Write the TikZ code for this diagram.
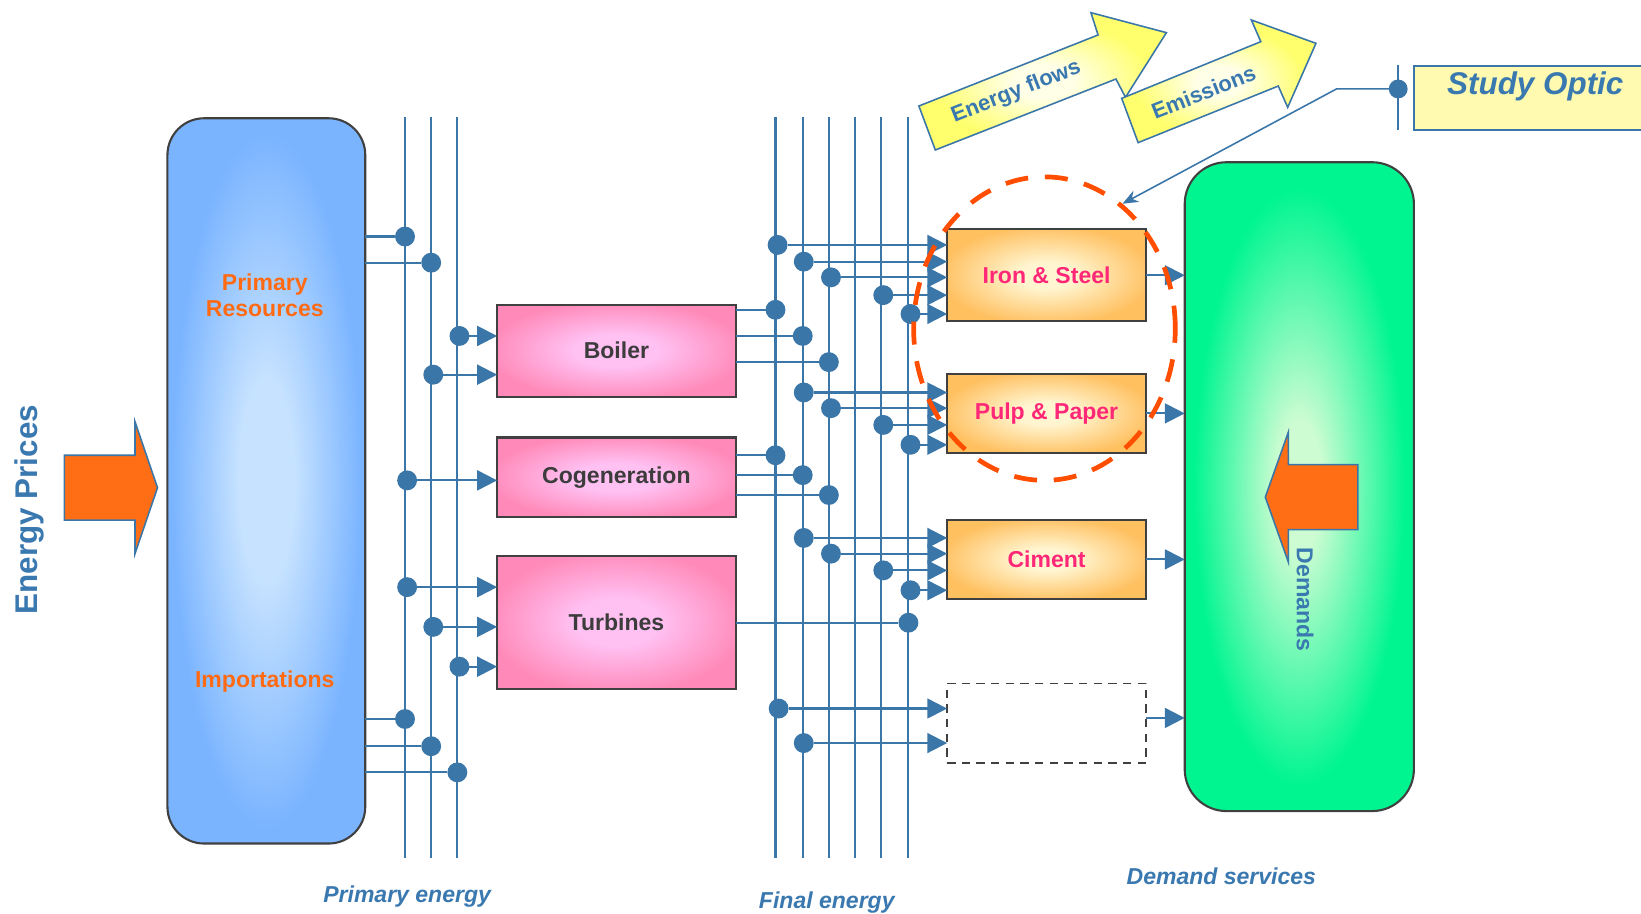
\documentclass[tikz,border=0pt]{standalone}
\usepackage{fontspec}
\setmainfont{Liberation Sans}
\usetikzlibrary{arrows.meta,shapes.geometric}
\definecolor{lblue}{RGB}{58,118,168}
\definecolor{tblue}{RGB}{58,120,176}
\definecolor{boxedge}{RGB}{64,64,64}
\definecolor{bouter}{RGB}{122,180,255}
\definecolor{binner}{RGB}{198,226,255}
\definecolor{gouter}{RGB}{0,245,145}
\definecolor{ginner}{RGB}{205,252,210}
\definecolor{pouter}{RGB}{255,138,185}
\definecolor{pinner}{RGB}{255,192,242}
\definecolor{oouter}{RGB}{255,192,96}
\definecolor{oinner}{RGB}{255,245,208}
\definecolor{yarrow}{RGB}{255,255,110}
\definecolor{ylight}{RGB}{255,255,232}
\definecolor{ybox}{RGB}{255,250,175}
\definecolor{orangearr}{RGB}{255,110,20}
\definecolor{orangetxt}{RGB}{255,106,19}
\definecolor{pinktxt}{RGB}{255,40,120}
\definecolor{darktxt}{RGB}{60,60,60}
\definecolor{dashcirc}{RGB}{255,78,0}
\pgfdeclareradialshading{blueshade}{\pgfpoint{0bp}{0bp}}{color(0bp)=(binner); color(7bp)=(binner); color(24bp)=(bouter); color(50bp)=(bouter)}
\pgfdeclareradialshading{greenshade}{\pgfpoint{0bp}{0bp}}{color(0bp)=(ginner); color(5bp)=(ginner); color(23bp)=(gouter); color(50bp)=(gouter)}
\pgfdeclareradialshading{pinkshade}{\pgfpoint{0bp}{0bp}}{color(0bp)=(pinner); color(9bp)=(pinner); color(27bp)=(pouter); color(50bp)=(pouter)}
\pgfdeclareradialshading{orangeshade}{\pgfpoint{0bp}{0bp}}{color(0bp)=(oinner); color(7bp)=(oinner); color(27bp)=(oouter); color(50bp)=(oouter)}
\pgfdeclareradialshading{yellowshade}{\pgfpoint{0bp}{0bp}}{color(0bp)=(ylight); color(6bp)=(ylight); color(22bp)=(yarrow); color(50bp)=(yarrow)}
\tikzset{
  busline/.style={draw=lblue, line width=2pt},
  conn/.style={draw=lblue, line width=2pt},
  connarr/.style={conn, -{Triangle[length=19pt,width=19pt]}},
  jdot/.style={circle, fill=lblue, minimum size=19pt, inner sep=0pt, outer sep=0pt},
  procbox/.style={rectangle, draw=boxedge, line width=2pt, shade, shading=pinkshade, inner sep=0pt, outer sep=0pt, minimum width=228pt, font=\fontsize{22}{26}\selectfont\bfseries, text=darktxt},
  sectbox/.style={rectangle, draw=boxedge, line width=2pt, shade, shading=orangeshade, inner sep=0pt, outer sep=0pt, minimum width=190pt, font=\fontsize{22}{26}\selectfont\bfseries, text=pinktxt},
  bigbox/.style={rectangle, draw=boxedge, line width=2pt, inner sep=0pt, outer sep=0pt},
  restext/.style={font=\fontsize{22}{25}\selectfont\bfseries, text=orangetxt, align=center},
  axislabel/.style={font=\fontsize{22}{26}\selectfont\bfseries\itshape, text=tblue},
  yarrowshape/.style={shading=yellowshade, draw=lblue, line width=1.5pt},
  yarrowtext/.style={font=\fontsize{21}{24}\selectfont\bfseries, text=tblue, rotate=21.5},
  bigarrow/.style={fill=orangearr, draw=lblue, line width=1.5pt}
}
\begin{document}
\begin{tikzpicture}[x=1pt,y=-1pt]
\useasboundingbox (0,0) rectangle (1568,873);
\fill[white] (0,0) rectangle (1568,873);

% bus lines
\foreach \n/\x in {P1/387,P2/412,P3/437,F1/741,F2/767,F3/792,F4/817,F5/842,F6/868}{
  \coordinate (\n t) at (\x,112);
  \coordinate (\n b) at (\x,820);
  \draw[busline] (\n t) -- (\n b);
}

% big boxes
\node[bigbox, shade, shading=blueshade, rounded corners=35pt, minimum width=189pt, minimum height=693pt] (blue) at (254.5,459.5) {};
\node[bigbox, shade, shading=greenshade, rounded corners=40pt, minimum width=219pt, minimum height=620pt] (green) at (1241.5,465) {};
\node[restext] (primres) at (253,282) {Primary\\Resources};
\node[restext] (imp) at (253,651) {Importations};

% process boxes
\node[procbox, minimum height=88pt] (boiler) at (589,335) {Boiler};
\node[procbox, minimum height=76pt] (cogen) at (589,456) {Cogeneration};
\node[procbox, minimum height=127pt] (turb) at (589,594.5) {Turbines};

% sector boxes
\node[sectbox, minimum height=88pt] (iron) at (1000,263) {Iron \& Steel};
\node[sectbox, minimum height=76pt] (pulp) at (1000,395) {Pulp \& Paper};
\node[sectbox, minimum height=75pt] (ciment) at (1000,534.5) {Ciment};
\node[rectangle, draw=boxedge, line width=1.5pt, dash pattern=on 8pt off 6pt, minimum width=190pt, minimum height=76pt, inner sep=0pt, outer sep=0pt] (other) at (1000,691) {};

% primary dots
\node[jdot] (pa) at (387,226) {};
\node[jdot] (pb) at (412,251) {};
\node[jdot] (pc) at (439,321) {};
\node[jdot] (pd) at (414,358) {};
\node[jdot] (pe) at (389,459) {};
\node[jdot] (pf) at (389,561) {};
\node[jdot] (pg) at (414,599) {};
\node[jdot] (ph) at (439,637) {};
\node[jdot] (pi) at (387,687) {};
\node[jdot] (pj) at (412,713) {};
\node[jdot] (pk) at (437,738) {};

\draw[conn] (blue.east |- pa) -- (pa);
\draw[conn] (blue.east |- pb) -- (pb);
\draw[conn] (blue.east |- pi) -- (pi);
\draw[conn] (blue.east |- pj) -- (pj);
\draw[conn] (blue.east |- pk) -- (pk);
\draw[connarr] (pc) -- (pc -| boiler.west);
\draw[connarr] (pd) -- (pd -| boiler.west);
\draw[connarr] (pe) -- (pe -| cogen.west);
\draw[connarr] (pf) -- (pf -| turb.west);
\draw[connarr] (pg) -- (pg -| turb.west);
\draw[connarr] (ph) -- (ph -| turb.west);

% final dots
\node[jdot] (fa) at (741,296) {};
\node[jdot] (fb) at (767,321) {};
\node[jdot] (fc) at (792,346) {};
\node[jdot] (fd) at (741,435) {};
\node[jdot] (fe) at (767,454) {};
\node[jdot] (ff) at (792,473) {};
\node[jdot] (fg) at (868,595) {};
\node[jdot] (fh) at (743,234) {};
\node[jdot] (fi) at (768,250) {};
\node[jdot] (fj) at (794,265) {};
\node[jdot] (fk) at (844,282) {};
\node[jdot] (fl) at (870,300) {};
\node[jdot] (fm) at (768,375) {};
\node[jdot] (fn) at (794,390) {};
\node[jdot] (fo) at (844,406) {};
\node[jdot] (fp) at (870,425) {};
\node[jdot] (fq) at (768,514) {};
\node[jdot] (fr) at (794,529) {};
\node[jdot] (fs) at (844,545) {};
\node[jdot] (ft) at (870,564) {};
\node[jdot] (fu) at (744,677) {};
\node[jdot] (fv) at (768,710) {};

\draw[conn] (boiler.east |- fa) -- (fa);
\draw[conn] (boiler.east |- fb) -- (fb);
\draw[conn] (boiler.east |- fc) -- (fc);
\draw[conn] (cogen.east |- fd) -- (fd);
\draw[conn] (cogen.east |- fe) -- (fe);
\draw[conn] (cogen.east |- ff) -- (ff);
\draw[conn] (turb.east |- fg) -- (fg);
\foreach \d in {fh,fi,fj,fk,fl}{\draw[connarr] (\d) -- (\d -| iron.west);}
\foreach \d in {fm,fn,fo,fp}{\draw[connarr] (\d) -- (\d -| pulp.west);}
\foreach \d in {fq,fr,fs,ft}{\draw[connarr] (\d) -- (\d -| ciment.west);}
\foreach \d in {fu,fv}{\draw[connarr] (\d) -- (\d -| other.west);}

% outputs to demand
\draw[connarr] (iron.east) -- (iron.east -| green.west);
\draw[connarr] (pulp.east) -- (pulp.east -| green.west);
\draw[connarr] (ciment.east) -- (ciment.east -| green.west);
\draw[connarr] ([yshift=5pt]other.east) -- ([yshift=5pt]other.east -| green.west);

% big orange arrows
\draw[bigarrow] (61.5,435) -- (129,435) -- (129,403) -- (150.5,466) -- (129,529) -- (129,497) -- (61.5,497) -- cycle;
\draw[bigarrow] (1297.5,444) -- (1231,444) -- (1231,413) -- (1209,475) -- (1231,537) -- (1231,506) -- (1297.5,506) -- cycle;
\node[font=\fontsize{30}{34}\selectfont\bfseries, text=tblue, rotate=90] (prices) at (28,487) {Energy Prices};
\node[font=\fontsize{22}{26}\selectfont\bfseries, text=tblue, rotate=-90] (demands) at (1247,573) {Demands};

% yellow arrows
\shadedraw[yarrowshape] (893.7,143.3) -- (878,101.3) -- (1049.2,33.4) -- (1042.4,12.1) -- (1114.5,31.2) -- (1075.4,93) -- (1066.3,75.5) -- cycle;
\shadedraw[yarrowshape] (1087.5,136.3) -- (1071.8,94) -- (1204.7,39.8) -- (1195.7,19.1) -- (1257.4,41.4) -- (1230.4,102.6) -- (1221.4,82.2) -- cycle;
\node[yarrowtext] (eflows) at (971,88) {Energy flows};
\node[yarrowtext] (emis) at (1150,88) {Emissions};

% focus ellipse
\node[ellipse, draw=dashcirc, line width=4.5pt, dash pattern=on 22pt off 16pt, minimum width=250pt, minimum height=290pt, inner sep=0pt] (focus) at (998,314) {};

% study optic
\node[rectangle, draw=lblue, fill=ybox, line width=2pt, anchor=north west, minimum width=260pt, minimum height=61.5pt, inner sep=0pt] (studybox) at (1350.5,62) {};
\node[font=\fontsize{30}{34}\selectfont\bfseries\itshape, text=tblue] (studytxt) at (1467,83) {Study Optic};
\coordinate (sotop) at (1336,62);
\coordinate (sobot) at (1336,124);
\draw[conn] (sotop) -- (sobot);
\node[jdot, minimum size=18pt] (sodot) at (1336,85) {};
\coordinate (sobend) at (1277,85);
\draw[draw=lblue, line width=1.5pt, -{Stealth[length=15pt,width=12pt]}] (sodot) -- (sobend) -- (focus.58);

% axis labels
\node[axislabel] (lprim) at (389,857) {Primary energy};
\node[axislabel] (lfin) at (790,862) {Final energy};
\node[axislabel] (ldem) at (1167,837) {Demand services};
\end{tikzpicture}
\end{document}
